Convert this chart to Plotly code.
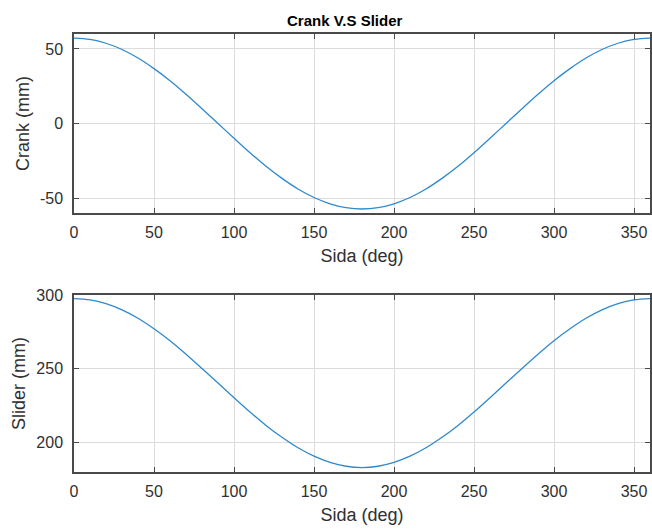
import plotly.graph_objects as go
from plotly.subplots import make_subplots

# Crank angle (deg) and the positions sampled along it
sida_deg = list(range(0, 361, 10))

crank_mm = [57.3, 56.4, 53.8, 49.6, 43.9, 36.8, 28.7, 19.6, 9.9, 0.0,
            -9.9, -19.6, -28.7, -36.8, -43.9, -49.6, -53.8, -56.4, -57.3,
            -56.4, -53.8, -49.6, -43.9, -36.8, -28.7, -19.6, -9.9, 0.0,
            9.9, 19.6, 28.7, 36.8, 43.9, 49.6, 53.8, 56.4, 57.3]

slider_mm = [297.6, 296.7, 294.1, 289.9, 284.2, 277.1, 269.0, 259.9, 250.2, 240.3,
             230.4, 220.7, 211.6, 203.5, 196.4, 190.7, 186.5, 183.9, 183.0,
             183.9, 186.5, 190.7, 196.4, 203.5, 211.6, 220.7, 230.4, 240.3,
             250.2, 259.9, 269.0, 277.1, 284.2, 289.9, 294.1, 296.7, 297.6]

x_ticks = [0, 50, 100, 150, 200, 250, 300, 350]
crank_ticks = [-50, 0, 50]
crank_tick_text = ["-50", "0", "50"]
slider_ticks = [200, 250, 300]
slider_tick_text = ["200", "250", "300"]

LINE = "#2f89cc"
AXIS = "#4a4a4a"
GRID = "#dcdcdc"
TEXT = "#303030"
FONT = "Liberation Sans, Arial, sans-serif"
TICK_SIZE = 16
LABEL_SIZE = 18

fig = make_subplots(rows=2, cols=1)

fig.add_trace(go.Scatter(x=sida_deg, y=crank_mm, mode="lines", line_shape="spline",
                         line=dict(color=LINE, width=1.3), showlegend=False), row=1, col=1)
fig.add_trace(go.Scatter(x=sida_deg, y=slider_mm, mode="lines", line_shape="spline",
                         line=dict(color=LINE, width=1.3), showlegend=False), row=2, col=1)

common_axis = dict(showline=True, linecolor=AXIS, linewidth=1.5, mirror="ticks",
                   ticks="inside", ticklen=5, tickwidth=1, tickcolor=AXIS,
                   showgrid=True, gridcolor=GRID, gridwidth=1, zeroline=False,
                   tickfont=dict(family=FONT, size=TICK_SIZE, color=TEXT))

x_title = dict(text="Sida (deg)", font=dict(family=FONT, size=LABEL_SIZE, color=TEXT), standoff=9)

fig.update_xaxes(range=[0, 360], tickvals=x_ticks, ticklabelstandoff=4, title=x_title, **common_axis)

fig.update_yaxes(ticklabelstandoff=6, **common_axis)
fig.update_yaxes(range=[-60, 60], tickvals=crank_ticks, ticktext=crank_tick_text, row=1, col=1,
                 title=dict(text="Crank (mm)", font=dict(family=FONT, size=LABEL_SIZE, color=TEXT),
                            standoff=6))
fig.update_yaxes(range=[180, 300], tickvals=slider_ticks, ticktext=slider_tick_text, row=2, col=1,
                 title=dict(text="Slider (mm)", font=dict(family=FONT, size=LABEL_SIZE, color=TEXT),
                            standoff=6))

fig.update_layout(
    width=652, height=529,
    margin=dict(l=74, r=0, t=34, b=57),
    paper_bgcolor="white", plot_bgcolor="white",
    xaxis=dict(domain=[0, 1]), yaxis=dict(domain=[0.5913, 1.0]),
    xaxis2=dict(domain=[0, 1]), yaxis2=dict(domain=[0.0, 0.4041]),
    annotations=[dict(text="<b>Crank V.S Slider</b>", x=0.469, y=1.0, xref="paper", yref="paper",
                      xanchor="center", yanchor="bottom", yshift=3, showarrow=False,
                      font=dict(family=FONT, size=15, color="black"))],
)

fig.write_html("out.html")
